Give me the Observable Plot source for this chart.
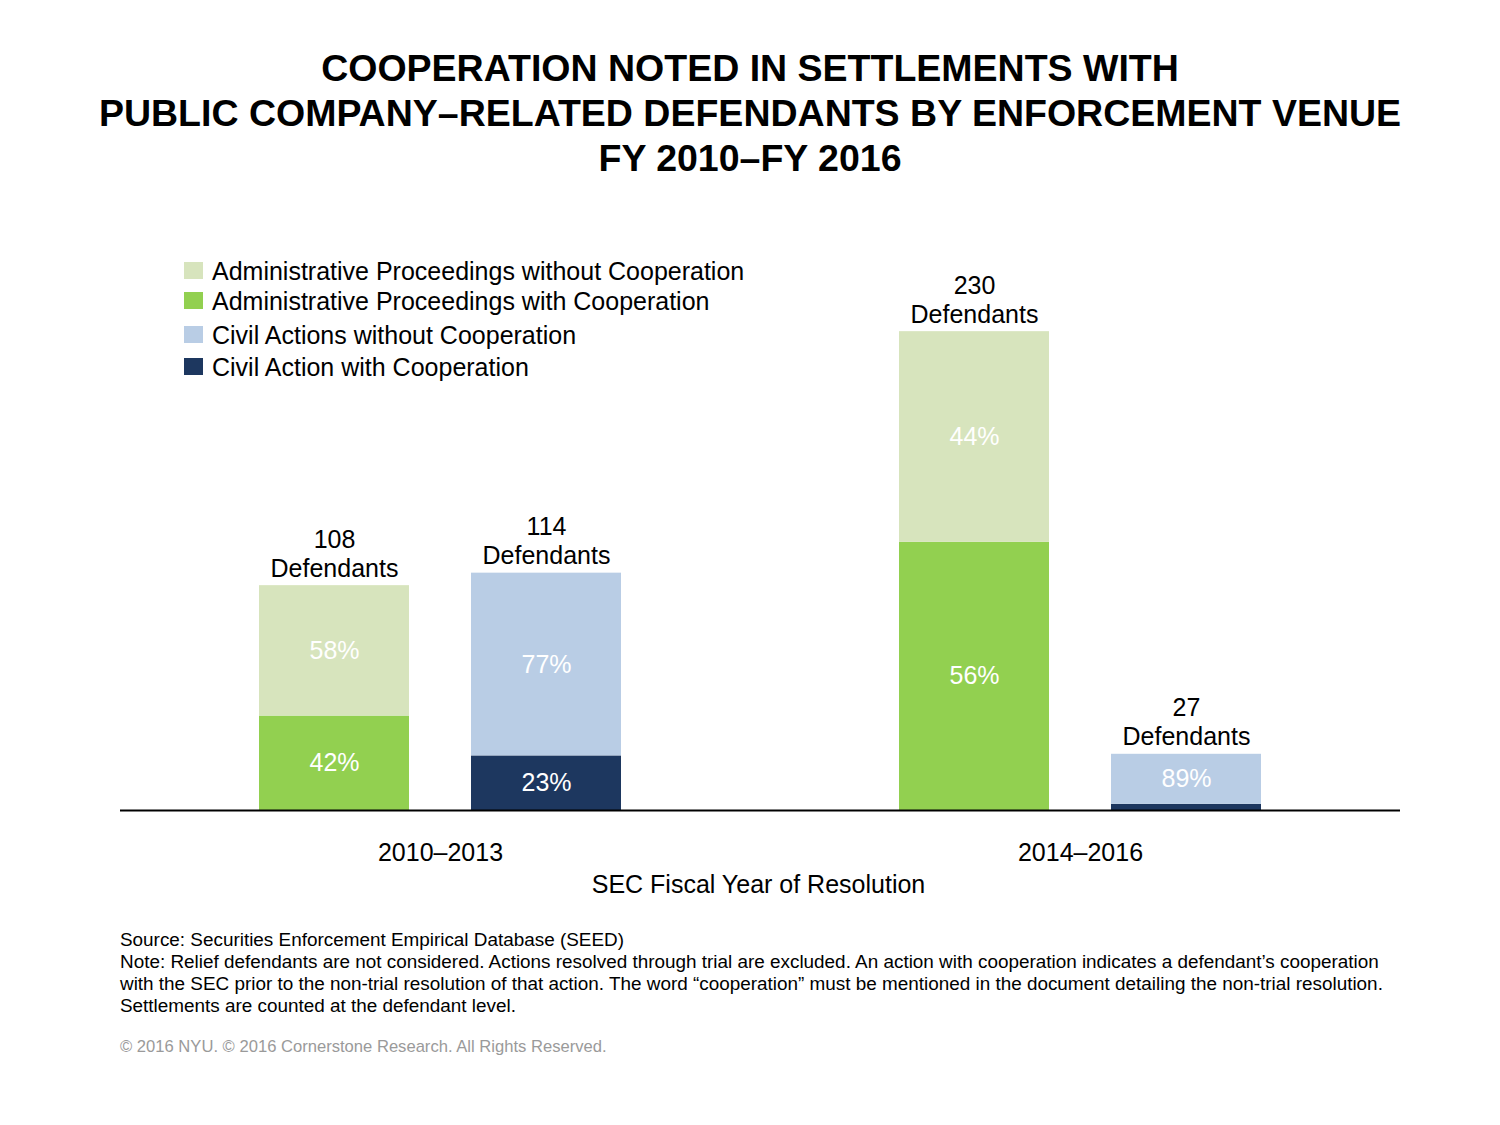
<!DOCTYPE html>
<html>
<head>
<meta charset="utf-8">
<script src="https://cdn.jsdelivr.net/npm/d3@7"></script>
<script src="https://cdn.jsdelivr.net/npm/@observablehq/plot@0.6"></script>
<style>
  html, body { margin: 0; padding: 0; background: #fff; }
  body { font-family: "Liberation Sans", Arial, sans-serif; color: #000; }
  #page { position: relative; width: 1500px; height: 1125px; overflow: hidden; }
  #title { position: absolute; left: 0; top: 46px; width: 1500px; text-align: center;
           font-weight: bold; font-size: 37.5px; line-height: 45px; white-space: nowrap; }
  #chart { position: absolute; left: 0; top: 200px; }
  #legend { position: absolute; left: 184px; top: 0; }
  .lg { position: absolute; left: 0; white-space: nowrap; font-size: 25px; line-height: 28px; }
  .lg span.sw { position: absolute; left: 0; top: 5px; width: 19px; height: 17px; }
  .lg span.tx { position: absolute; left: 28px; top: 0; }
  #xlabel { position: absolute; left: 0; width: 1517px; text-align: center; top: 870px; font-size: 25px; line-height: 28px; }
  #footer { position: absolute; left: 120px; top: 929px; font-size: 18.9px; line-height: 22px; white-space: nowrap; }
  #copy { position: absolute; left: 120px; top: 1037px; font-size: 16.6px; line-height: 20px; color: #9a9a9a; white-space: nowrap; }
</style>
</head>
<body>
<div id="page">
  <div id="title">COOPERATION NOTED IN SETTLEMENTS WITH<br>PUBLIC COMPANY–RELATED DEFENDANTS BY ENFORCEMENT VENUE<br>FY 2010–FY 2016</div>
  <div id="chart"></div>
  <div id="legend"></div>
  <div id="xlabel">SEC Fiscal Year of Resolution</div>
  <div id="footer">Source: Securities Enforcement Empirical Database (SEED)<br>Note: Relief defendants are not considered. Actions resolved through trial are excluded. An action with cooperation indicates a defendant’s cooperation<br>with the SEC prior to the non-trial resolution of that action. The word “cooperation” must be mentioned in the document detailing the non-trial resolution.<br>Settlements are counted at the defendant level.</div>
  <div id="copy">© 2016 NYU. © 2016 Cornerstone Research. All Rights Reserved.</div>
</div>
<script>
// ---- data ----
const periods = ["2010–2013", "2010–2013", "2014–2016", "2014–2016"];
const venues = ["Administrative Proceedings", "Civil Actions", "Administrative Proceedings", "Civil Actions"];
const totals = [108, 114, 230, 27];
const withCoopPct = [42, 23, 56, 11];
const withoutCoopPct = [58, 77, 44, 89];
const seriesNames = [
  "Administrative Proceedings without Cooperation",
  "Administrative Proceedings with Cooperation",
  "Civil Actions without Cooperation",
  "Civil Action with Cooperation"
];
const seriesColors = ["#d7e4bd", "#92d050", "#b9cde5", "#1d375f"];
const legendTops = [257, 287, 321, 353];

// ---- build table ----
const rows = [];
periods.forEach((p, i) => {
  const isAP = venues[i] === "Administrative Proceedings";
  rows.push({period: p, venue: venues[i], series: isAP ? seriesNames[1] : seriesNames[3],
             pct: withCoopPct[i], value: totals[i] * withCoopPct[i] / 100});
  rows.push({period: p, venue: venues[i], series: isAP ? seriesNames[0] : seriesNames[2],
             pct: withoutCoopPct[i], value: totals[i] * withoutCoopPct[i] / 100});
});
const totalRows = periods.map((p, i) => ({period: p, venue: venues[i], total: totals[i]}));

const chart = Plot.plot({
  width: 1500,
  height: 680,
  marginLeft: 120,
  marginRight: 100,
  marginTop: 0,
  marginBottom: 70,
  style: {fontFamily: "'Liberation Sans', Arial, sans-serif", fontSize: "25px", color: "#000", background: "transparent"},
  fx: {domain: ["2010–2013", "2014–2016"], padding: 0, label: null, tickSize: 0, tickPadding: 33, axis: "bottom"},
  x: {domain: ["Administrative Proceedings", "Civil Actions"], paddingInner: 0.291, paddingOuter: 0.648, axis: null},
  y: {domain: [0, 293], axis: null},
  color: {domain: seriesNames, range: seriesColors},
  marks: [
    Plot.barY(rows, {fx: "period", x: "venue", y: "value", fill: "series"}),
    Plot.text(rows, Plot.stackY({fx: "period", x: "venue", y: "value",
      text: d => d.pct >= 20 ? d.pct + "%" : null, fill: "white", fontSize: 25})),
    Plot.text(totalRows, {fx: "period", x: "venue", y: "total",
      text: d => d.total + "\nDefendants", lineAnchor: "bottom", lineHeight: 1.16, dy: -9,
      fill: "black", fontSize: 25}),
    Plot.ruleY([0], {stroke: "black", strokeWidth: 2})
  ]
});
document.getElementById("chart").appendChild(chart);

// legend
const lg = document.getElementById("legend");
seriesNames.forEach((name, i) => {
  const d = document.createElement("div");
  d.className = "lg";
  d.style.top = legendTops[i] + "px";
  d.innerHTML = `<span class="sw" style="background:${seriesColors[i]}"></span><span class="tx">${name}</span>`;
  lg.appendChild(d);
});
</script>
</body>
</html>
